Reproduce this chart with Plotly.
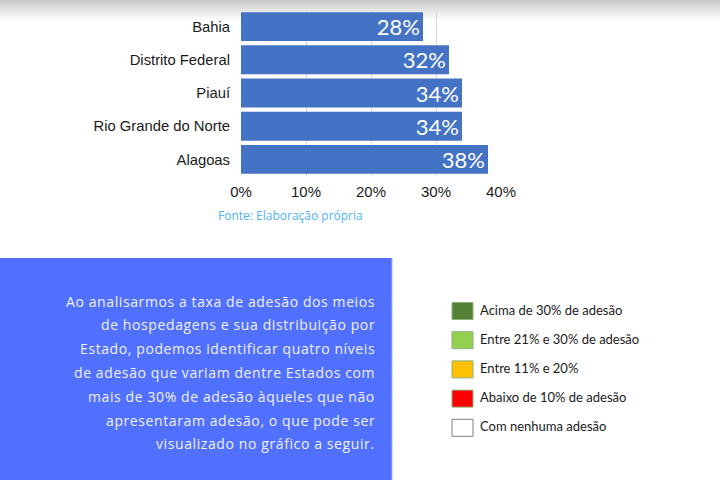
import plotly.graph_objects as go

W, H = 720, 480

# ---- data ----
states = ["Bahia", "Distrito Federal", "Piauí", "Rio Grande do Norte", "Alagoas"]
adesao = [28, 32, 34, 34, 38]
x_ticks = [0, 10, 20, 30, 40]
x_tick_labels = ["0%", "10%", "20%", "30%", "40%"]

source_text = "Fonte: Elaboração própria"

paragraph_lines = [
    "Ao analisarmos a taxa de adesão dos meios",
    "de hospedagens e sua distribuição por",
    "Estado, podemos identificar quatro níveis",
    "de adesão que variam dentre Estados com",
    "mais de 30% de adesão àqueles que não",
    "apresentaram adesão, o que pode ser",
    "visualizado no gráfico a seguir.",
]

legend_labels = [
    "Acima de 30% de adesão",
    "Entre 21% e 30% de adesão",
    "Entre 11% e 20%",
    "Abaixo de 10% de adesão",
    "Com nenhuma adesão",
]
legend_colors = ["#538135", "#92D050", "#FFC000", "#FF0000", "#FFFFFF"]


def px(x):
    return x / W


def py(y):
    return 1 - y / H


fig = go.Figure()

fig.add_trace(go.Bar(
    y=states,
    x=adesao,
    orientation="h",
    marker=dict(color="#4472C4", line=dict(width=0)),
    text=[f"{v}%" for v in adesao],
    textposition="inside",
    insidetextanchor="end",
    textfont=dict(family="Lato", size=22, color="white"),
    constraintext="none",
    hoverinfo="skip",
))

shapes = []
# top gray gradient band
g0, g1, steps = 200, 255, 22
for i in range(steps):
    v = int(g0 + (g1 - g0) * (i / (steps - 1)) ** 0.8)
    shapes.append(dict(type="rect", xref="paper", yref="paper",
                       x0=0, x1=1, y0=py(i + 1), y1=py(i),
                       fillcolor=f"rgb({v},{v},{v})", line=dict(width=0),
                       layer="below"))

# blue text box
shapes.append(dict(type="rect", xref="paper", yref="paper",
                   x0=0, x1=px(392), y0=0, y1=py(258),
                   fillcolor="#5270FF", line=dict(width=0), layer="below"))
shapes.append(dict(type="line", xref="paper", yref="paper",
                   x0=px(392), x1=px(392), y0=0, y1=py(258),
                   line=dict(color="#A9B8FF", width=1), layer="below"))

annotations = []
annotations.append(dict(text=source_text, xref="paper", yref="paper",
                        x=px(290), y=py(216), xanchor="center", yanchor="middle",
                        showarrow=False,
                        font=dict(family="Open Sans", size=12, color="#4FB3F6")))

for i, line in enumerate(paragraph_lines):
    annotations.append(dict(text=f'<span style="letter-spacing:0.6px">{line}</span>',
                            xref="paper", yref="paper",
                            x=px(377), y=py(301 + i * 23.8), xanchor="right",
                            yanchor="middle", showarrow=False,
                            font=dict(family="Open Sans", size=14, color="#EEF0FF")))

for i, (lab, col) in enumerate(zip(legend_labels, legend_colors)):
    yc = 310.5 + i * 29.2
    shapes.append(dict(type="rect", xref="paper", yref="paper",
                       x0=px(452), x1=px(473), y0=py(yc + 9), y1=py(yc - 8),
                       fillcolor=col,
                       line=dict(color="#7F7F7F" if col == "#FFFFFF" else "#8FAF7F", width=1)))
    annotations.append(dict(text=lab, xref="paper", yref="paper",
                            x=px(478), y=py(yc - 1), xanchor="left", yanchor="middle",
                            showarrow=False,
                            font=dict(family="Lato", size=13, color="#1A1A1A")))

fig.update_layout(
    width=W, height=H,
    margin=dict(l=0, r=0, t=0, b=0),
    paper_bgcolor="white",
    plot_bgcolor="rgba(0,0,0,0)",
    showlegend=False,
    bargap=0.13,
    shapes=shapes,
    annotations=annotations,
    xaxis=dict(
        domain=[px(241), px(501)],
        range=[0, 40],
        tickmode="array",
        tickvals=x_ticks,
        ticktext=x_tick_labels,
        showgrid=True, gridcolor="#D9D9D9", gridwidth=1,
        zeroline=False, showline=False,
        tickfont=dict(family="Liberation Sans", size=15, color="#1A1A1A"),
        ticks="", ticklabelstandoff=5,
        automargin=False, fixedrange=True,
    ),
    yaxis=dict(
        domain=[py(176), py(10)],
        categoryorder="array",
        categoryarray=states[::-1],
        tickfont=dict(family="Liberation Sans", size=14.8, color="#1A1A1A"),
        ticks="", ticklabelstandoff=10,
        showgrid=False, zeroline=False, showline=False,
        automargin=False, fixedrange=True,
    ),
)

fig.write_html("out.html")
